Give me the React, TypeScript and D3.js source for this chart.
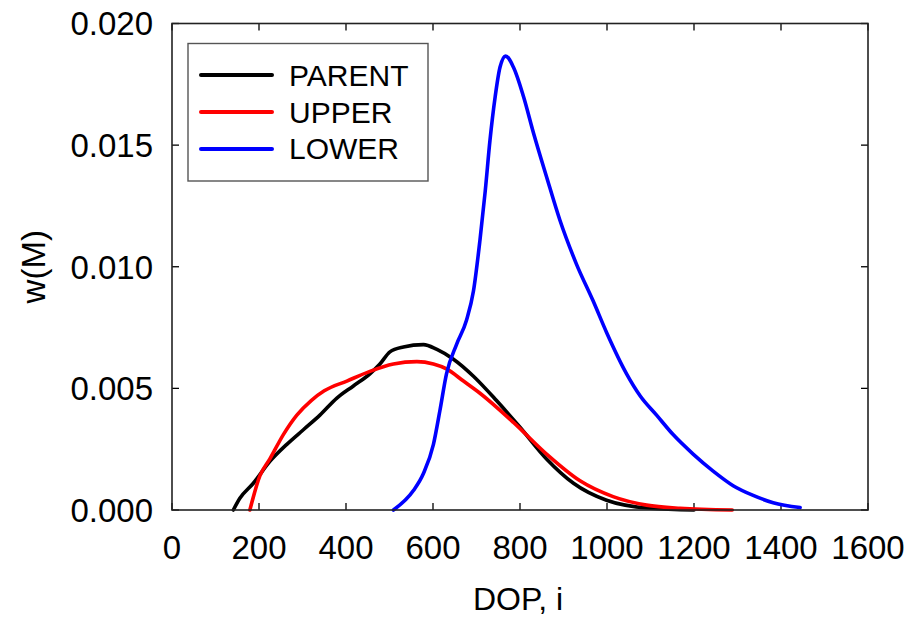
import React from 'react';
import * as d3 from 'd3';

// values
const dopParent = [141, 156, 187, 225, 264, 302, 340, 379, 417, 455, 478, 501, 532, 578, 609, 647, 693, 746, 800, 861, 923, 999, 1099, 1200];
const wParent = [0, 0.00048, 0.0011, 0.002, 0.0027, 0.0033, 0.0039, 0.0046, 0.0051, 0.0056, 0.006, 0.0065, 0.0067, 0.0068, 0.0066, 0.0062, 0.0055, 0.0045, 0.0034, 0.0021, 0.0011, 0.0004, 0.00007, 0];

const dopUpper = [179, 202, 225, 256, 287, 320, 350, 402, 455, 509, 563, 601, 631, 670, 708, 785, 861, 938, 1014, 1091, 1168, 1288];
const wUpper = [0, 0.0014, 0.0021, 0.0031, 0.0039, 0.0045, 0.0049, 0.0053, 0.0057, 0.006, 0.0061, 0.006, 0.0058, 0.0053, 0.0048, 0.0036, 0.0023, 0.0012, 0.00055, 0.0002, 0.00007, 0];

const dopLower = [509, 555, 578, 601, 616, 631, 654, 677, 693, 708, 720, 731, 743, 754, 767, 785, 808, 831, 861, 892, 930, 968, 999, 1045, 1076, 1114, 1152, 1198, 1244, 1290, 1336, 1382, 1444];
const wLower = [0, 0.0008, 0.0015, 0.0027, 0.0041, 0.0056, 0.0068, 0.0078, 0.009, 0.0111, 0.0131, 0.0152, 0.017, 0.0182, 0.01866, 0.0182, 0.017, 0.0155, 0.0137, 0.0119, 0.0101, 0.0086, 0.0073, 0.0056, 0.0047, 0.0039, 0.0031, 0.0023, 0.0016, 0.001, 0.0006, 0.0003, 0.0001];

const xTicks = [0, 200, 400, 600, 800, 1000, 1200, 1400, 1600];
const yTicks = [0, 0.005, 0.01, 0.015, 0.02];

const seriesNames = ['PARENT', 'UPPER', 'LOWER'];
const seriesColors = ['#000000', '#ff0000', '#0000ff'];

const W = 920;
const H = 619;
const left = 172;
const right = 868;
const top = 23.5;
const bottom = 510;
const font = '"Liberation Sans", Arial, Helvetica, sans-serif';

const App = () => {
  const x = d3.scaleLinear().domain([0, 1600]).range([left, right]);
  const y = d3.scaleLinear().domain([0, 0.02]).range([bottom, top]);

  const line = d3.line<[number, number]>()
    .x(d => x(d[0]))
    .y(d => y(d[1]))
    .curve(d3.curveMonotoneX);

  const series = [
    d3.zip(dopParent, wParent) as [number, number][],
    d3.zip(dopUpper, wUpper) as [number, number][],
    d3.zip(dopLower, wLower) as [number, number][],
  ];

  const tick = 7;

  return (
    <svg width={W} height={H} style={{ position: 'absolute', left: 0, top: 0 }} fontFamily={font}>
      <rect x={0} y={0} width={W} height={H} fill="#fff" />

      {/* ticks on all four sides, pointing inward */}
      {xTicks.map(t => (
        <g key={'x' + t}>
          <line x1={x(t)} x2={x(t)} y1={bottom} y2={bottom - tick} stroke="#000" strokeWidth={1.3} />
          <line x1={x(t)} x2={x(t)} y1={top} y2={top + tick} stroke="#000" strokeWidth={1.3} />
          <text x={x(t)} y={559} textAnchor="middle" fontSize={33} fill="#000">{t}</text>
        </g>
      ))}
      {yTicks.map(t => (
        <g key={'y' + t}>
          <line x1={left} x2={left + tick} y1={y(t)} y2={y(t)} stroke="#000" strokeWidth={1.3} />
          <line x1={right} x2={right - tick} y1={y(t)} y2={y(t)} stroke="#000" strokeWidth={1.3} />
          <text x={153} y={y(t)} dy="0.36em" textAnchor="end" fontSize={33} fill="#000">{t.toFixed(3)}</text>
        </g>
      ))}

      {series.map((s, i) => (
        <path key={seriesNames[i]} d={line(s) || ''} fill="none" stroke={seriesColors[i]}
          strokeWidth={3.6} strokeLinejoin="round" strokeLinecap="round" />
      ))}

      <rect x={left} y={top} width={right - left} height={bottom - top} fill="none" stroke="#222" strokeWidth={1.6} />

      {/* legend */}
      <rect x={188} y={43.5} width={240} height={137.5} fill="#fff" stroke="#555" strokeWidth={1.4} />
      {seriesNames.map((name, i) => (
        <g key={name}>
          <line x1={201} x2={272} y1={75 + i * 37} y2={75 + i * 37} stroke={seriesColors[i]} strokeWidth={4} strokeLinecap="round" />
          <text x={289} y={85.7 + i * 36.8} fontSize={30} fill="#000">{name}</text>
        </g>
      ))}

      <text x={518} y={610} textAnchor="middle" fontSize={32} fill="#000">DOP, i</text>
      <text transform={`translate(45,${(top + bottom) / 2}) rotate(-90)`} textAnchor="middle" fontSize={33} fill="#000">w(M)</text>
    </svg>
  );
};

export default App;
